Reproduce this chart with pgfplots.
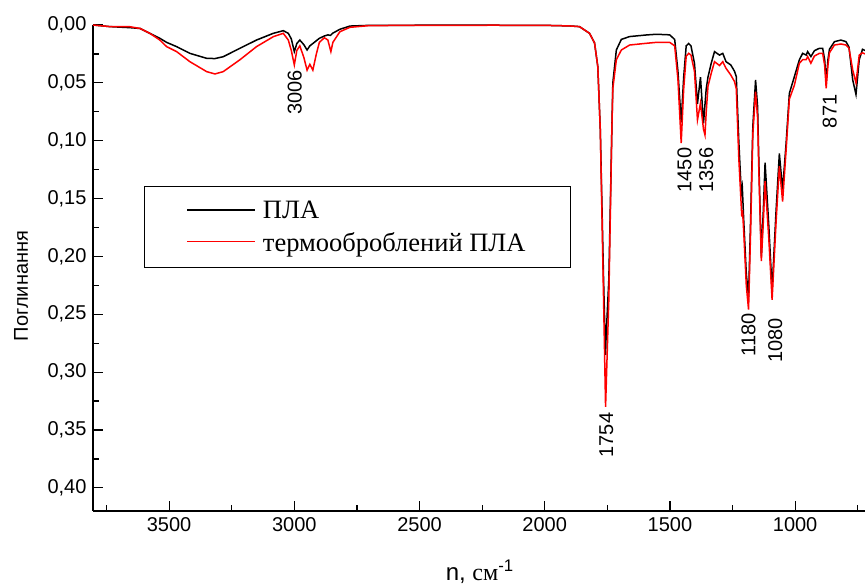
\documentclass[border=0pt]{standalone}
\usepackage{fontspec}
\setmainfont{Liberation Sans}
\newfontfamily\serif{Liberation Serif}
\usepackage{pgfplots}
\pgfplotsset{compat=1.18}

% ПЛА (black)
\pgfplotstableread{
x y
3804 0.000
3736 0.0014
3656 0.0023
3616 0.0030
3577 0.0072
3537 0.0115
3510 0.0150
3470 0.0187
3417 0.0245
3350 0.0288
3317 0.0290
3284 0.0274
3217 0.0201
3151 0.0130
3084 0.0072
3044 0.0049
3024 0.0072
3012 0.0120
3000 0.0230
2990 0.0160
2978 0.0130
2962 0.0170
2949 0.0216
2938 0.0180
2926 0.0160
2900 0.0115
2880 0.0095
2866 0.0085
2856 0.0090
2846 0.0070
2818 0.0037
2778 0.0009
2700 0.0003
2500 0.0002
2200 0.0002
2000 0.0003
1900 0.0008
1861 0.0014
1821 0.0072
1801 0.0155
1788 0.0360
1778 0.0910
1765 0.2200
1759 0.2700
1757 0.2850
1755 0.2700
1744 0.2200
1732 0.0910
1728 0.0500
1714 0.0216
1694 0.0124
1661 0.0100
1594 0.0086
1554 0.0080
1501 0.0085
1481 0.0125
1468 0.0400
1455 0.0840
1445 0.0450
1435 0.0180
1425 0.0160
1416 0.0180
1402 0.0330
1390 0.0680
1378 0.0450
1366 0.0850
1355 0.0550
1348 0.0450
1335 0.0330
1322 0.0230
1302 0.0260
1289 0.0245
1276 0.0317
1257 0.0345
1242 0.0400
1235 0.0446
1225 0.1000
1215 0.1450
1211 0.1400
1205 0.1700
1195 0.2150
1186 0.2350
1178 0.1700
1169 0.0880
1158 0.0475
1150 0.0700
1145 0.1170
1135 0.2000
1127 0.1600
1120 0.1190
1105 0.1740
1092 0.2290
1076 0.1600
1063 0.1110
1050 0.1425
1036 0.1020
1023 0.0590
1003 0.0446
983 0.0300
970 0.0245
956 0.0260
950 0.0230
937 0.0273
923 0.0222
903 0.0201
890 0.0201
882 0.0300
876 0.0490
869 0.0300
863 0.0210
843 0.0144
817 0.0130
797 0.0144
785 0.0190
770 0.0475
757 0.0600
744 0.0300
731 0.0210
721 0.0220
}\pla

% термооброблений ПЛА (red)
\pgfplotstableread{
x y
3804 0.000
3736 0.0014
3656 0.0015
3616 0.0030
3577 0.0072
3537 0.0130
3510 0.0187
3470 0.0230
3417 0.0317
3350 0.0403
3317 0.0423
3284 0.0403
3217 0.0300
3151 0.0187
3084 0.0101
3044 0.0072
3024 0.0130
3012 0.0220
3000 0.0345
2990 0.0220
2978 0.0180
2962 0.0280
2949 0.0390
2938 0.0340
2926 0.0390
2912 0.0250
2900 0.0150
2880 0.0110
2866 0.0130
2854 0.0230
2846 0.0150
2818 0.0058
2778 0.0020
2700 0.0005
2500 0.0003
2200 0.0002
2000 0.0003
1900 0.0008
1861 0.0014
1821 0.0072
1801 0.0155
1788 0.0360
1778 0.0910
1765 0.2370
1757 0.3300
1744 0.2370
1732 0.0910
1728 0.0550
1714 0.0300
1694 0.0216
1661 0.0173
1594 0.0158
1554 0.0150
1501 0.0150
1481 0.0180
1468 0.0470
1455 0.1020
1445 0.0550
1435 0.0270
1425 0.0245
1416 0.0260
1402 0.0400
1390 0.0820
1378 0.0675
1366 0.0900
1360 0.0950
1355 0.0750
1348 0.0530
1335 0.0417
1322 0.0317
1302 0.0350
1289 0.0317
1276 0.0374
1257 0.0432
1242 0.0489
1235 0.0550
1225 0.1150
1213 0.1655
1210 0.1600
1205 0.1800
1195 0.2250
1186 0.2460
1178 0.1800
1169 0.0950
1158 0.0576
1150 0.0800
1145 0.1250
1135 0.2040
1127 0.1700
1120 0.1350
1105 0.1850
1092 0.2375
1076 0.1700
1063 0.1220
1050 0.1526
1036 0.1080
1023 0.0640
1003 0.0520
983 0.0330
970 0.0300
956 0.0300
950 0.0273
937 0.0330
923 0.0268
903 0.0245
890 0.0245
882 0.0350
876 0.0547
869 0.0350
863 0.0240
843 0.0173
817 0.0164
797 0.0173
785 0.0200
770 0.0389
757 0.0500
744 0.0260
731 0.0240
721 0.0250
}\tpla

\begin{document}
\begin{tikzpicture}
\begin{axis}[
  at={(0,0)}, anchor=south west,
  scale only axis, width=772pt, height=486pt,
  x dir=reverse, y dir=reverse,
  xmin=721, xmax=3804, ymin=0, ymax=0.42,
  axis x line*=bottom, axis y line*=left,
  axis line style={-, line width=1.2pt},
  tick pos=left, tick align=inside,
  xtick={1000,1500,...,3500},
  minor xtick={750,1250,...,3750},
  ytick={0,0.05,...,0.40},
  minor ytick={0.025,0.075,...,0.375},
  major tick length=10pt, minor tick length=6pt,
  every tick/.style={black, line width=1.2pt},
  tick label style={font=\fontsize{20}{24}\selectfont},
  yticklabel style={xshift=-3pt},
  xticklabel style={yshift=-3pt},
  /pgf/number format/assume math mode=true,
  x tick label style={/pgf/number format/1000 sep={}},
  y tick label style={/pgf/number format/.cd, use comma, fixed, fixed zerofill, precision=2},
  xlabel={n, {\serif см}\textsuperscript{-1}},
  xlabel style={font=\fontsize{24}{28}\selectfont, at={(axis description cs:0.501,-0.144)}, anchor=base},
  ylabel={Поглинання},
  ylabel style={font=\fontsize{20}{24}\selectfont, at={(axis description cs:-0.093,0.463)}, anchor=center},
  clip=false,
  legend style={at={(axis description cs:0.066,0.669)}, anchor=north west,
    draw=black, line width=1pt, inner xsep=42pt, inner ysep=12pt,
    font=\serif\fontsize{26.5}{30}\selectfont, row sep=6pt, column sep=4pt,
    nodes={inner sep=3pt}},
  legend cell align=left,
  legend image code/.code={\draw[#1, line width=1.5pt] (0pt,1pt) -- (68pt,1pt);},
]
\addplot[black, line width=1.5pt] table[x=x, y=y] {\pla};
\addlegendentry{ПЛА}
\addplot[red, line width=1.5pt] table[x=x, y=y] {\tpla};
\addlegendentry{термооброблений ПЛА}

\begin{scope}[every node/.style={rotate=90, anchor=east, inner sep=0pt, font=\fontsize{20}{24}\selectfont}]
\node at (axis cs:2998,0.039) {3006};
\node at (axis cs:1754,0.335) {1754};
\node at (axis cs:1442,0.106) {1450};
\node at (axis cs:1355,0.106) {1356};
\node at (axis cs:1186,0.249) {1180};
\node at (axis cs:1079,0.253) {1080};
\node at (axis cs:862,0.060) {871};
\end{scope}
\end{axis}
\pgfresetboundingbox
\path[use as bounding box] (-93pt,-76pt) rectangle (772pt,511pt);
\end{tikzpicture}
\end{document}
